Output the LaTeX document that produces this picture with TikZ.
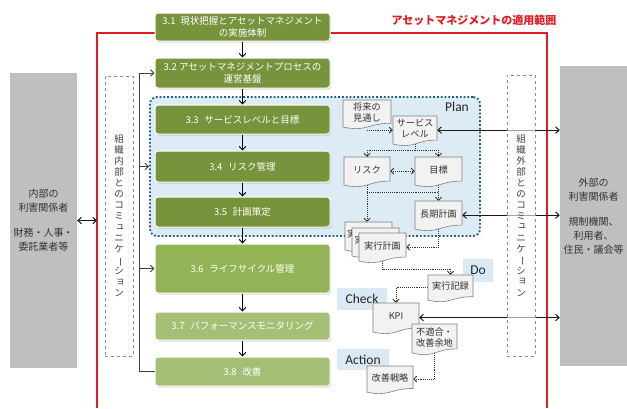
\documentclass[tikz,border=0pt]{standalone}
\usepackage{fontspec}
\setmainfont{Noto Sans CJK JP}
\newfontfamily\latinf{Carlito}
\usetikzlibrary{arrows.meta,shadows,calc}
\pgfdeclarelayer{bg}
\pgfdeclarelayer{mid}
\pgfsetlayers{bg,mid,main}
\definecolor{gdark}{HTML}{77933C}
\definecolor{gmid}{HTML}{93B456}
\definecolor{glight}{HTML}{A5BF76}
\definecolor{planfill}{HTML}{DDEBF4}
\definecolor{plandot}{HTML}{1F5F7F}
\definecolor{lblfill}{HTML}{DAE9F3}
\definecolor{grayb}{HTML}{BFBFBF}
\definecolor{redl}{HTML}{E01B22}
\definecolor{docfill}{HTML}{F2F2F2}
\definecolor{docline}{HTML}{7F7F7F}
\definecolor{txtd}{HTML}{333333}
\tikzset{
  gbox/.style={rectangle, rounded corners=3pt, draw=white, line width=1pt, text=white,
    minimum width=175, inner sep=0pt, align=center, font=\fontsize{9.5}{12}\selectfont,
    drop shadow={opacity=0.3, shadow xshift=1.2pt, shadow yshift=-1.5pt}},
  graybox/.style={rectangle, fill=grayb, inner sep=0pt, align=center, text=txtd,
    font=\fontsize{10}{14}\selectfont},
  planreg/.style={rectangle, rounded corners=7pt, fill=planfill, draw=plandot,
    line width=1.8pt, dotted, minimum width=330, minimum height=139},
  lbl/.style={rectangle, fill=lblfill, inner sep=0pt, text=black!85,
    font=\latinf\fontsize{13.5}{13.5}\selectfont},
  docshape/.style={fill=docfill, draw=docline, line width=0.6pt},
  docbox/.style={rectangle, draw=none, inner sep=0pt},
  doctext/.style={inner sep=0pt, align=center, text=txtd, font=\fontsize{9.2}{11}\selectfont},
  arr/.style={-{Straight Barb[length=3.5pt,width=6.5pt]}, line width=0.9pt, draw=black},
  darr/.style={{Straight Barb[length=3.5pt,width=6.5pt]}-{Straight Barb[length=3.5pt,width=6.5pt]}, line width=1pt, draw=black!90},
  brkline/.style={line width=0.9pt, draw=black!75},
  dotl/.style={densely dotted, line width=0.9pt, draw=black!80},
  dotarr/.style={dotl, -{Straight Barb[length=3pt,width=6pt]}},
  dotdarr/.style={dotl, {Straight Barb[length=3pt,width=6pt]}-{Straight Barb[length=3pt,width=6pt]}},
  commbox/.style={rectangle, draw=black!45, dashed, line width=0.6pt, fill=white, fill opacity=0.6, text opacity=1},
  commtext/.style={inner sep=0pt, align=center, text=black!75, font=\fontsize{9.5}{11}\selectfont},
  redframe/.style={draw=redl, line width=1.6pt}
}
\newcommand\vsmall[1]{\raisebox{0.15em}{\hspace*{0.14em}#1\hspace*{-0.14em}}}
\newcommand\vbar{\rotatebox[origin=c]{-90}{ー}}
\newcommand\jdoc[6]{%
  \pgfmathsetmacro\jdXm{(#2+#4)/2}%
  \pgfmathsetmacro\jdYr{#3+0.802*(#5-#3)}%
  \pgfmathsetmacro\jdYl{#3+0.934*(#5-#3)}%
  \pgfmathsetmacro\jdYc{#3+1.107*(#5-#3)}%
  \pgfmathsetmacro\jdYt{#3+0.42*(#5-#3)}%
  \pgfmathsetmacro\jdYm{#3+0.47*(#5-#3)}%
  \pgfmathsetmacro\jdW{#4-#2}%
  \pgfmathsetmacro\jdH{0.94*(#5-#3)}%
  \draw[docshape] (#2,#3) -- (#4,#3) -- (#4,\jdYr) .. controls (\jdXm,\jdYr) and (\jdXm,\jdYc) .. (#2,\jdYl) -- cycle;
  \node[docbox, minimum width=\jdW, minimum height=\jdH] (#1) at (\jdXm,\jdYm) {};
  \node[doctext] (#1-t) at (\jdXm,\jdYt) {#6};
}
\begin{document}
\begin{tikzpicture}[x=1pt,y=-1pt]
\useasboundingbox (0,0) rectangle (627,408);

\begin{pgfonlayer}{bg}
  \node[planreg] (plan) at (315,166.5) {};
  \node[lbl, minimum width=30, minimum height=23] (do) at (478,270.5) {Do};
  \node[lbl, minimum width=50, minimum height=22] (check) at (362,299) {Check};
  \node[lbl, minimum width=52, minimum height=21] (action) at (363,359.5) {Action};
\end{pgfonlayer}

\node[inner sep=0pt, text=black!85, font=\latinf\fontsize{13.5}{13.5}\selectfont] (plantxt) at (457,107) {Plan};

% stakeholders
\node[graybox, minimum width=67, minimum height=295] (lgray) at (43.5,220.5)
  {内部の\\利害関係者\\[11pt]財務・人事・\\委託業者等};
\node[graybox, minimum width=67, minimum height=300] (rgray) at (593.5,216)
  {外部の\\利害関係者\\[11pt]規制機関、\\利用者、\\住民・議会等};

% red frame
\draw[redframe] (97,408) -- (97,33) -- (547,33) -- (547,408);
\coordinate (redL) at (97,0);
\node[inner sep=0pt, text=redl, font=\bfseries\fontsize{11}{11}\selectfont] (title) at (474,20) {アセットマネジメントの適用範囲};

% process boxes
\node[gbox, fill=gdark, minimum height=28] (b31) at (242.5,27) {3.1\hspace{0.5em}現状把握とアセットマネジメント\\の実施体制};
\node[gbox, fill=gdark, minimum height=30] (b32) at (242.5,73) {3.2 アセットマネジメントプロセスの\\運営基盤};
\node[gbox, fill=gdark, minimum height=29] (b33) at (242.5,119.5) {3.3\hspace{0.6em}サービスレベルと目標};
\node[gbox, fill=gdark, minimum height=31] (b34) at (242.5,166.5) {3.4\hspace{0.6em}リスク管理};
\node[gbox, fill=gdark, minimum height=30] (b35) at (242.5,212) {3.5\hspace{0.6em}計画策定};
\node[gbox, fill=gmid, minimum height=49] (b36) at (242.5,268.5) {3.6\hspace{0.6em}ライフサイクル管理};
\node[gbox, fill=glight, minimum height=28] (b37) at (242.5,326) {3.7\hspace{0.6em}パフォーマンスモニタリング};
\node[gbox, fill=glight, minimum height=29] (b38) at (242.5,371.5) {3.8\hspace{0.6em}改善};

\foreach \a/\b in {b31/b32,b32/b33,b33/b34,b34/b35,b35/b36,b36/b37,b37/b38}
  \draw[arr] (\a.south) -- (\b.north);

% internal communication bracket
\coordinate (brk) at (139,0);
\draw[brkline, -{Straight Barb[length=3.5pt,width=6.5pt]}] (b38.west) -| (brk |- b32.west) -- (b32.west);
\draw[brkline, -{Straight Barb[length=3.5pt,width=6.5pt]}] (brk |- b34.west) -- (plan.west |- b34.west);
\draw[brkline, -{Straight Barb[length=3.5pt,width=6.5pt]}] (brk |- b36.west) -- (b36.west);

\draw[darr] (lgray.east) -- (redL |- lgray.east);

% documents
\jdoc{fut}{343}{100}{391}{129}{将来の\\見通し}
\jdoc{svc}{393}{116}{437}{146}{サービス\\レベル}
\jdoc{risk}{344}{157}{390}{187}{リスク}
\jdoc{goal}{415}{157}{462}{187}{目標}
\jdoc{long}{415}{201}{462}{231}{長期計画}
\jdoc{ex1}{345}{222}{392}{252}{}
\node[doctext, anchor=west] (ex1-c) at (347,234.5) {実};
\jdoc{ex2}{352}{228}{399}{258}{}
\node[doctext, anchor=west] (ex2-c) at (354.5,240.5) {実};
\jdoc{ex3}{359}{233}{406}{263}{実行計画}
\jdoc{rec}{428}{275}{473}{302}{実行記録}
\jdoc{kpi}{373}{303}{419}{334}{KPI}
\jdoc{nc}{412}{324}{457}{355}{不適合・\\改善余地}
\jdoc{strat}{367}{366}{413}{394}{改善戦略}

\begin{pgfonlayer}{mid}
  \draw[dotarr] (fut.south |- svc.west) -- (svc.west);
  \draw[dotl] (svc.south) -- ++(0,6) coordinate (sv1);
  \draw[dotarr] (sv1) -| (risk.north);
  \draw[dotarr] (sv1) -| (goal.north);
  \draw[dotdarr] (risk.east) -- (goal.west);
  \draw[dotarr] (goal.south) -- (long.north);
  \draw[dotl] ($(risk.south)+(0,7)$) -- ($(goal.south)+(0,7)$);
  \draw[dotarr] (risk.south) -- (risk.south |- ex1.north);
  \draw[dotarr] (long.south) |- (ex3.east);
  \draw[dotarr] (ex3.south) -- ++(0,8) -| (rec.north);
  \draw[dotarr] (rec.west) -| (kpi.north);
  \draw[dotarr] (nc.south) |- (strat.east);
\end{pgfonlayer}

% links to external stakeholders
\draw[darr] (svc.east) -- (rgray.west |- svc.east);
\draw[darr] (long.east) -- (rgray.west |- long.east);
\draw[darr] (kpi.east) -- (rgray.west |- kpi.east);

% communication boxes
\node[commbox, minimum width=28, minimum height=280] (lcomm) at (119,216) {};
\node[commtext] (lcommt) at (lcomm.center)
  {組\\織\\内\\部\\と\\の\\コ\\ミ\\\vsmall{ュ}\\ニ\\ケ\\\vbar\\シ\\\vsmall{ョ}\\ン};
\node[commbox, minimum width=28, minimum height=281] (rcomm) at (521,215.5) {};
\node[commtext] (rcommt) at (rcomm.center)
  {組\\織\\外\\部\\と\\の\\コ\\ミ\\\vsmall{ュ}\\ニ\\ケ\\\vbar\\シ\\\vsmall{ョ}\\ン};
\end{tikzpicture}
\end{document}
